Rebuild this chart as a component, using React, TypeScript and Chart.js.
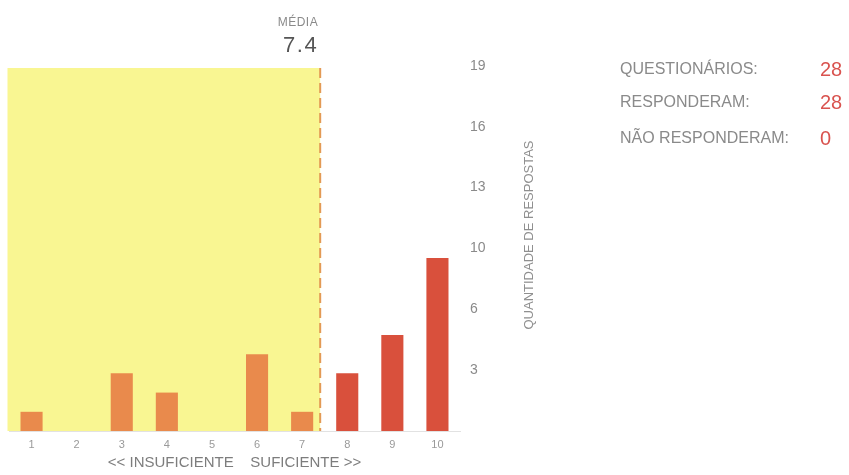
import React, { useEffect, useRef } from "react";
import { Chart, registerables } from "chart.js";

Chart.register(...registerables);

const categories = ["1", "2", "3", "4", "5", "6", "7", "8", "9", "10"];
const responses = [1, 0, 3, 2, 0, 4, 1, 3, 5, 9];
const barColors = [
  "#e98a4c", "#e98a4c", "#e98a4c", "#e98a4c", "#e98a4c", "#e98a4c", "#e98a4c",
  "#d9503c", "#d9503c", "#d9503c",
];
const yTickValues = [3.17, 6.33, 9.5, 12.67, 15.83, 19];
const yTickLabels = ["3", "6", "10", "13", "16", "19"];
const yMax = 19;
const meanValue = 7.4;
const meanLabel = "MÉDIA";
const xTitle = "<< INSUFICIENTE    SUFICIENTE >>";
const yTitle = "QUANTIDADE DE RESPOSTAS";
const summaryLabels = ["QUESTIONÁRIOS:", "RESPONDERAM:", "NÃO RESPONDERAM:"];
const summaryValues = ["28", "28", "0"];

const FONT = "'Liberation Sans', Arial, sans-serif";

const overlayPlugin = {
  id: "overlay",
  beforeDatasetsDraw(chart: any) {
    const { ctx, chartArea, scales } = chart;
    const meanX = scales.x.getPixelForValue(meanValue - 1);
    ctx.save();
    ctx.fillStyle = "#f9f692";
    ctx.fillRect(chartArea.left - 1.5, chartArea.top + 2, meanX - chartArea.left + 1.5, chartArea.bottom - chartArea.top - 2);
    ctx.restore();
  },
  afterDatasetsDraw(chart: any) {
    const { ctx, chartArea, scales } = chart;
    const meanX = scales.x.getPixelForValue(meanValue - 1);
    ctx.save();
    // dashed mean line
    ctx.strokeStyle = "#e39a55";
    ctx.lineWidth = 2;
    ctx.setLineDash([10, 5]);
    ctx.beginPath();
    ctx.moveTo(meanX, chartArea.top + 2);
    ctx.lineTo(meanX, chartArea.bottom);
    ctx.stroke();
    ctx.setLineDash([]);

    // mean labels
    ctx.textAlign = "right";
    ctx.textBaseline = "middle";
    ctx.fillStyle = "#8a8a8a";
    ctx.font = `12px ${FONT}`;
    (ctx as any).letterSpacing = "0.5px";
    ctx.fillText(meanLabel, meanX - 2, 23);
    ctx.fillStyle = "#555555";
    ctx.font = `22px ${FONT}`;
    (ctx as any).letterSpacing = "1.5px";
    ctx.fillText(meanValue.toFixed(1), meanX - 2, 46);
    (ctx as any).letterSpacing = "0px";

    // y-axis title, reading bottom to top
    ctx.save();
    ctx.translate(529, 235);
    ctx.rotate(-Math.PI / 2);
    ctx.textAlign = "center";
    ctx.fillStyle = "#8f8f8f";
    ctx.font = `13px ${FONT}`;
    ctx.fillText(yTitle, 0, 0);
    ctx.restore();

    // summary panel
    const rows = [70, 103, 139];
    summaryLabels.forEach((lab, i) => {
      ctx.textAlign = "left";
      ctx.fillStyle = "#8a8a8a";
      ctx.font = `16px ${FONT}`;
      ctx.fillText(lab, 620, rows[i]);
      ctx.fillStyle = "#d9534f";
      ctx.font = `20px ${FONT}`;
      ctx.fillText(summaryValues[i], 820, rows[i]);
    });
    ctx.restore();
  },
};

export default function App() {
  const ref = useRef<HTMLCanvasElement>(null);
  useEffect(() => {
    if (!ref.current) return;
    const chart = new Chart(ref.current, {
      type: "bar",
      data: {
        labels: categories,
        datasets: [
          {
            data: responses,
            backgroundColor: barColors,
            borderWidth: 0,
            categoryPercentage: 1,
            barPercentage: 0.49,
          },
        ],
      },
      options: {
        responsive: false,
        animation: false,
        layout: { padding: { left: 9, top: 66, right: 0, bottom: 0 } },
        plugins: { legend: { display: false }, tooltip: { enabled: false } },
        scales: {
          x: {
            grid: { display: false, drawTicks: false },
            border: { display: true, color: "#e2e2e2", width: 1 },
            ticks: { color: "#9a9a9a", font: { family: FONT, size: 11 }, padding: 7 },
            title: {
              display: true,
              text: xTitle,
              color: "#7d7d7d",
              font: { family: FONT, size: 15 },
              padding: { top: 0, bottom: 3 },
            },
            afterFit(scale: any) {
              scale.height = 44;
            },
          },
          y: {
            position: "right",
            min: 0,
            max: yMax,
            grid: { display: false, drawTicks: false },
            border: { display: false },
            afterBuildTicks(scale: any) {
              scale.ticks = yTickValues.map((v) => ({ value: v }));
            },
            ticks: {
              color: "#8a8a8a",
              font: { family: FONT, size: 14 },
              padding: 10,
              callback: (_v: any, i: number) => yTickLabels[i],
            },
            afterFit(scale: any) {
              scale.width = 389;
            },
          },
        },
      },
      plugins: [overlayPlugin],
    });
    return () => chart.destroy();
  }, []);
  return (
    <div style={{ position: "absolute", left: 0, top: 0, width: 849, height: 475, background: "#fff" }}>
      <canvas ref={ref} width={849} height={475} style={{ display: "block" }} />
    </div>
  );
}
